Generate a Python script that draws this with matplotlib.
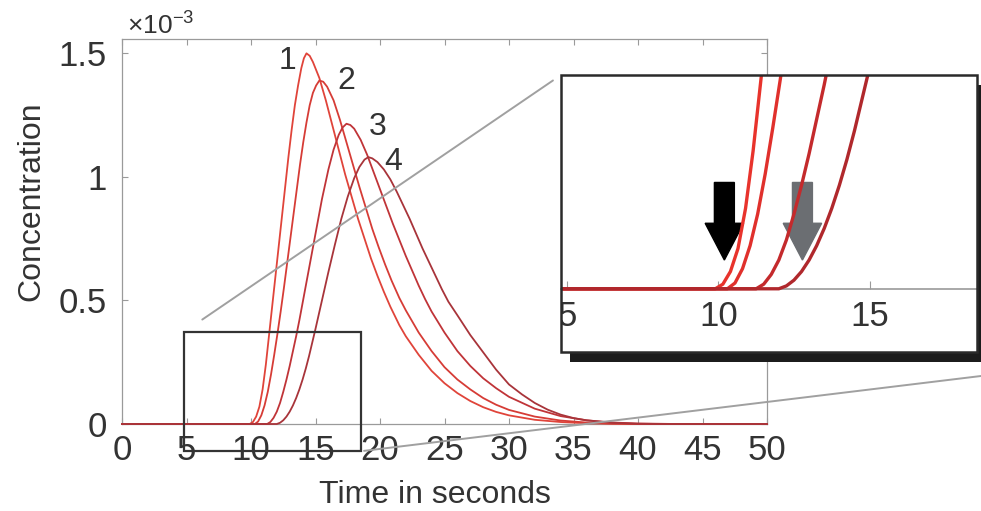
import numpy as np
import matplotlib
matplotlib.use("Agg")
import matplotlib.pyplot as plt
from matplotlib.patches import Rectangle, ConnectionPatch
from matplotlib.ticker import FuncFormatter

plt.rcParams['font.family'] = ['Liberation Sans', 'DejaVu Sans']
plt.rcParams['mathtext.fontset'] = 'custom'
plt.rcParams['mathtext.rm'] = 'Liberation Sans'

# ================= DATA (concentration, units of 1e-3) =================
t1 = [0, 9.9, 10.15, 10.4, 10.65, 10.9, 11.15, 11.4, 11.65, 11.9, 12.15, 12.4, 12.65,
      12.9, 13.15, 13.4, 13.65, 13.9, 14.1, 14.3, 14.55, 14.8, 15.3, 15.8, 16.3, 16.8,
      17.3, 17.8, 18.3, 18.8, 19.3, 19.8, 20.3, 20.8, 21.5, 22.0, 23.0, 24.0, 25.0, 26.0,
      27.0, 28.0, 29.0, 30.0, 32.0, 34.0, 36.0, 38.0, 40.0, 50.0]
c1 = [0, 0, 0.008, 0.03, 0.07, 0.14, 0.24, 0.36, 0.48, 0.60, 0.72, 0.84, 0.96,
      1.08, 1.19, 1.29, 1.37, 1.44, 1.48, 1.50, 1.49, 1.465, 1.40, 1.31, 1.21, 1.11,
      1.01, 0.92, 0.83, 0.75, 0.67, 0.60, 0.535, 0.475, 0.40, 0.355, 0.28, 0.215, 0.165, 0.125,
      0.093, 0.068, 0.049, 0.035, 0.017, 0.008, 0.003, 0.001, 0, 0]

t2 = [0, 10.3, 10.55, 10.8, 11.05, 11.3, 11.55, 11.8, 12.05, 12.3, 12.55, 12.8, 13.05,
      13.3, 13.55, 13.8, 14.05, 14.3, 14.55, 14.8, 15.05, 15.3, 15.6, 15.9, 16.4, 16.9, 17.4,
      17.9, 18.4, 18.9, 19.4, 19.9, 20.4, 20.9, 21.5, 22.0, 23.0, 24.0, 25.0, 26.0, 27.0,
      28.0, 29.0, 30.0, 32.0, 34.0, 36.0, 38.0, 40.0, 50.0]
c2 = [0, 0, 0.01, 0.035, 0.075, 0.13, 0.20, 0.28, 0.365, 0.455, 0.55, 0.65, 0.75,
      0.85, 0.95, 1.05, 1.14, 1.22, 1.29, 1.34, 1.37, 1.39, 1.385, 1.365, 1.31, 1.23, 1.14,
      1.05, 0.96, 0.875, 0.79, 0.715, 0.645, 0.58, 0.51, 0.46, 0.37, 0.295, 0.23, 0.18, 0.14,
      0.105, 0.078, 0.057, 0.03, 0.014, 0.006, 0.002, 0, 0]

t3 = [0, 11.25, 11.5, 11.75, 12.0, 12.25, 12.5, 12.75, 13.0, 13.25, 13.5, 13.75, 14.0,
      14.5, 15.0, 15.5, 16.0, 16.4, 16.8, 17.1, 17.4, 17.7, 18.0, 18.5, 19.0, 19.5, 20.0,
      20.5, 21.0, 21.5, 22.0, 22.5, 23.0, 23.5, 24.0, 25.0, 26.0, 27.0, 28.0, 29.0, 30.0,
      32.0, 34.0, 36.0, 38.0, 40.0, 43.0, 50.0]
c3 = [0, 0, 0.008, 0.025, 0.05, 0.085, 0.13, 0.18, 0.235, 0.295, 0.355, 0.42, 0.49,
      0.63, 0.77, 0.91, 1.03, 1.11, 1.17, 1.20, 1.215, 1.21, 1.195, 1.15, 1.09, 1.02, 0.95,
      0.88, 0.81, 0.745, 0.68, 0.62, 0.56, 0.505, 0.455, 0.37, 0.295, 0.235, 0.185, 0.145, 0.11,
      0.062, 0.032, 0.015, 0.006, 0.002, 0, 0]

t4 = [0, 12.0, 12.25, 12.5, 12.75, 13.0, 13.25, 13.5, 13.75, 14.0, 14.25, 14.5, 14.75,
      15.0, 15.5, 16.0, 16.5, 17.0, 17.5, 18.0, 18.4, 18.8, 19.1, 19.4, 19.8, 20.3, 20.8,
      21.3, 21.8, 22.3, 22.8, 23.3, 23.8, 24.3, 24.8, 25.3, 26.0, 27.0, 28.0, 29.0, 30.0,
      31.0, 32.0, 33.0, 34.0, 35.0, 36.0, 38.0, 40.0, 42.0, 50.0]
c4 = [0, 0, 0.005, 0.015, 0.03, 0.05, 0.075, 0.105, 0.14, 0.18, 0.225, 0.275, 0.33,
      0.385, 0.50, 0.615, 0.725, 0.83, 0.92, 0.995, 1.04, 1.07, 1.08, 1.075, 1.06, 1.03, 0.99,
      0.94, 0.885, 0.83, 0.77, 0.71, 0.655, 0.60, 0.545, 0.495, 0.44, 0.36, 0.29, 0.22, 0.16,
      0.12, 0.085, 0.058, 0.038, 0.024, 0.015, 0.005, 0.001, 0, 0]

curve_times = [t1, t2, t3, t4]
curve_values = [c1, c2, c3, c4]
curve_names = ["1", "2", "3", "4"]
curve_colors = ["#e0443a", "#d63c36", "#c03438", "#a8343a"]
inset_colors = ["#e8332c", "#e0302c", "#c42a2c", "#b0282c"]

# where the number labels sit (time, concentration 1e-3)
label_t = [12.8, 17.4, 19.8, 21.0]
label_c = [1.47, 1.39, 1.20, 1.06]

# zoom window (time, concentration 1e-3)
zoom_x = (4.8, 18.55)
zoom_y = (-0.11, 0.372)

# arrows in the inset: x position, top, tip (1e-3), colour
arrow_x = [10.2, 12.78]
arrow_top = 0.185
arrow_tip = 0.05
arrow_colors = ["#000000", "#6b6e72"]

SCALE = 1e-3
TXT = "#333333"
GRID_GRAY = "#9a9a9a"
FS = 23
FS_TICK = 25

# ================= FIGURE =================
fig = plt.figure(figsize=(9.81, 5.11), dpi=100)
ax = fig.add_axes([122 / 981, 1 - 424 / 511, (767 - 122) / 981, (424 - 39) / 511])

for t, c, col in zip(curve_times, curve_values, curve_colors):
    ax.plot(t, np.array(c) * SCALE, color=col, lw=1.3, clip_on=False, zorder=3)

for name, x, y in zip(curve_names, label_t, label_c):
    ax.text(x, y * SCALE, name, fontsize=FS, color=TXT, ha="center", va="center")

ax.set_xlim(0, 50)
ax.set_ylim(0, 1.558e-3)
ax.set_xticks(np.arange(0, 51, 5))
ax.set_yticks(np.array([0, 0.5, 1, 1.5]) * SCALE)
ax.yaxis.set_major_formatter(FuncFormatter(lambda v, p: f"{v / SCALE:g}"))
ax.tick_params(direction="in", length=4, width=0.8, color=GRID_GRAY,
               labelsize=FS_TICK, labelcolor=TXT, top=True, right=True)
ax.tick_params(axis="x", pad=7)
ax.tick_params(axis="y", pad=11)
for s in ax.spines.values():
    s.set_color(GRID_GRAY)
    s.set_linewidth(0.9)

ax.text(0.008, 1.0, r"$\times10^{-3}$", transform=ax.transAxes, fontsize=19,
        color=TXT, ha="left", va="bottom")

ax.set_xlabel("Time in seconds", fontsize=FS, color=TXT)
ax.set_ylabel("Concentration", fontsize=FS, color=TXT)
ax.xaxis.set_label_coords(0.485, -0.145)
ax.yaxis.set_label_coords(-0.118, 0.58)

# zoom box on the main axes
ax.add_patch(Rectangle((zoom_x[0], zoom_y[0] * SCALE), zoom_x[1] - zoom_x[0],
                       (zoom_y[1] - zoom_y[0]) * SCALE, fill=False, ec="#333333",
                       lw=1.6, clip_on=False, zorder=4))

# ---------------- INSET ----------------
in_l, in_r, in_t, in_b = 561 / 981, 977 / 981, 1 - 75 / 511, 1 - 352 / 511
ax_in = fig.add_axes([in_l, in_b, in_r - in_l, in_t - in_b])
ax_in.set_zorder(5)

# drop shadow
sh_dx, sh_dy = 9 / 981, 10 / 511
shadow = Rectangle((in_l + sh_dx, in_b - sh_dy), in_r - in_l, in_t - in_b,
                   transform=fig.transFigure, fc="#1c1c1c", ec="none", zorder=4)
fig.add_artist(shadow)

for t, c, col in zip(curve_times, curve_values, inset_colors):
    ax_in.plot(t, np.array(c) * SCALE, color=col, lw=2.4, zorder=3)

for x, col in zip(arrow_x, arrow_colors):
    ax_in.arrow(x, arrow_top * SCALE, 0, -(arrow_top - arrow_tip) * SCALE,
                width=0.66, head_width=1.27, head_length=0.064 * SCALE,
                length_includes_head=True, color=col, zorder=2)

ax_in.set_xlim(*zoom_x)
ax_in.set_ylim(zoom_y[0] * SCALE, zoom_y[1] * SCALE)
ax_in.set_yticks([])
ax_in.set_xticks([5, 10, 15])
for side in ["top", "left", "right"]:
    ax_in.spines[side].set_visible(False)
ax_in.spines["bottom"].set_position(("data", 0))
ax_in.spines["bottom"].set_color(GRID_GRAY)
ax_in.spines["bottom"].set_linewidth(1.2)
ax_in.tick_params(axis="x", direction="in", length=6, width=0.8, color=GRID_GRAY,
                  labelsize=FS_TICK, labelcolor=TXT, pad=8)
for lab in ax_in.get_xticklabels():
    lab.set_clip_path(ax_in.patch)
ax_in.add_patch(Rectangle((0, 0), 1, 1, transform=ax_in.transAxes, fill=False,
                          ec="#2a2a2a", lw=1.8, clip_on=False, zorder=6))

# ---------------- CONNECTOR LINES ----------------
con1 = ConnectionPatch(xyA=(zoom_x[0], zoom_y[1] * SCALE), coordsA=ax.transData,
                       xyB=(0, 1), coordsB=ax_in.transAxes,
                       color="#a0a0a0", lw=1.4, shrinkA=16, shrinkB=7, zorder=2)
fig.add_artist(con1)
con2 = ConnectionPatch(xyA=(zoom_x[1], zoom_y[0] * SCALE), coordsA=ax.transData,
                       xyB=(1.0, 1 - 376 / 511), coordsB=fig.transFigure,
                       color="#a0a0a0", lw=1.4, shrinkA=2, shrinkB=0, zorder=2)
fig.add_artist(con2)

fig.savefig("out.png", dpi=100)
